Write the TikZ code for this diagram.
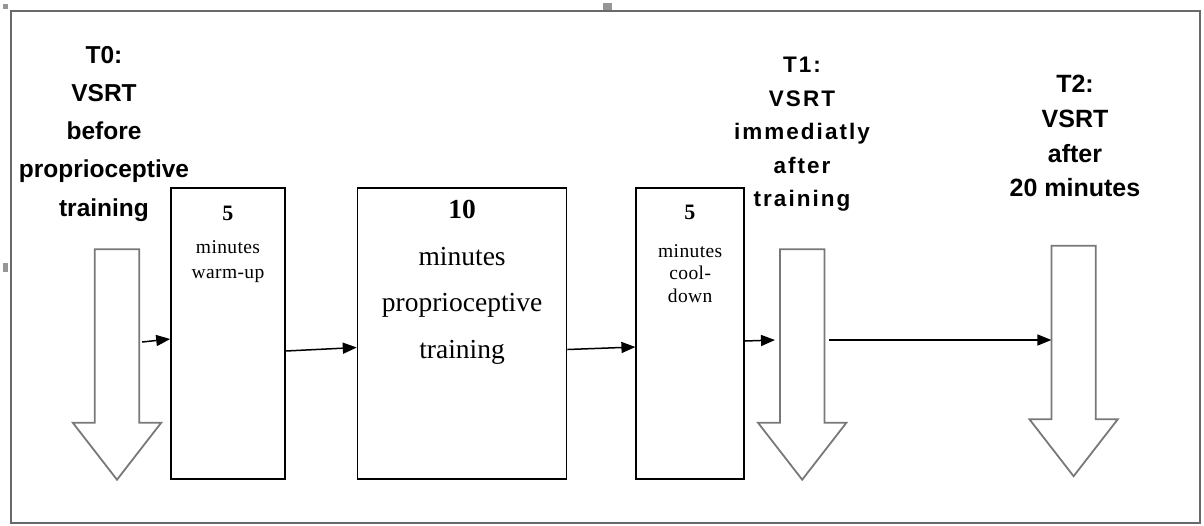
\documentclass[tikz,border=0pt]{standalone}
\usepackage{fontspec}
\setmainfont{Liberation Serif}
\newfontfamily\labelfont{Liberation Sans}
\newfontfamily\spacedfont[LetterSpace=9]{Liberation Sans}
\newfontfamily\spacedserif[LetterSpace=2]{Liberation Serif}
\usetikzlibrary{arrows.meta,positioning,calc}
\definecolor{framegray}{RGB}{105,105,105}
\definecolor{arrowgray}{RGB}{120,120,120}
\definecolor{handlegray}{RGB}{150,150,150}
\tikzset{
  frame/.style={draw=framegray,line width=2pt},
  stagebox/.style={draw=black,line width=1.6pt,inner sep=0pt,minimum height=291pt},
  stagetext/.style={anchor=north,align=center,inner sep=0pt},
  shaft/.style={inner sep=0pt,minimum width=44pt,minimum height=173pt},
  blockarrow/.style={draw=arrowgray,line width=1.8pt,line join=miter},
  timelabel/.style n args={3}{anchor=north,align=center,inner sep=0pt,
    font=#1\bfseries\fontsize{#2}{#3}\selectfont},
  flowarrow/.style={-{Triangle[length=14pt,width=11pt]},line width=1.5pt},
  handle/.style={fill=handlegray}
}
\newcommand{\bignum}[1]{{\fontsize{22}{25}\selectfont\textbf{#1}}}

\begin{document}
\begin{tikzpicture}[x=1pt,y=-1pt]
  \useasboundingbox (0,0) rectangle (1204,525);
  \draw[frame] (11,11) rectangle (1200,523);
  \fill[handle] (3,4) rectangle (8,9);
  \fill[handle] (603,3) rectangle (612,10);
  \fill[handle] (3,263) rectangle (8,272);
  % stage boxes
  \node[stagebox,minimum width=114pt] (warm) at (228,333.5) {};
  \node[stagebox,minimum width=209pt,right=71pt of warm] (train) {};
  \node[stagebox,minimum width=108pt,right=68pt of train] (cool) {};
  \node[stagetext,font=\spacedserif\fontsize{19.5}{25}\selectfont] (warmtxt)
    at ([yshift=-19pt]warm.north) {\bignum{5}\\[8pt]minutes\\warm-up};
  \node[stagetext,font=\fontsize{27.5}{46.5}\selectfont] (traintxt)
    at ([yshift=-13pt]train.north) {\textbf{10}\\minutes\\proprioceptive\\training};
  \node[stagetext,font=\spacedserif\fontsize{19.5}{22.5}\selectfont] (cooltxt)
    at ([yshift=-18pt]cool.north) {\bignum{5}\\[15pt]minutes\\cool-\\down};
  % test moments
  \node[shaft,left=31pt of warm,yshift=-2.5pt] (t0) {};
  \node[shaft,right=35pt of cool,yshift=-2.5pt] (t1) {};
  \node[shaft,right=227pt of t1,yshift=3.5pt] (t2) {};
  \foreach \n in {t0,t1,t2}
    \draw[blockarrow] (\n.north west) -- (\n.south west) -- ++(-22,0)
      -- ([yshift=-57pt]\n.south) -- ([xshift=22pt]\n.south east)
      -- (\n.south east) -- (\n.north east) -- cycle;
  \node[timelabel={\labelfont}{24.5}{38.2}] (t0lbl) at (104,46)
    {T0:\\VSRT\\before\\proprioceptive\\training};
  \node[timelabel={\spacedfont}{22.5}{33.5}] (t1lbl) at (802,57)
    {T1:\\VSRT\\immediatly\\after\\training};
  \node[timelabel={\labelfont}{25}{34.7}] (t2lbl) at (1075,75)
    {T2:\\VSRT\\after\\20 minutes};
  % flow
  \draw[flowarrow] ([xshift=3pt,yshift=-6pt]t0.east) -- ([yshift=-5.5pt]warm.west);
  \draw[flowarrow] ([yshift=-17.5pt]warm.east) -- ([yshift=-14pt]train.west);
  \draw[flowarrow] ([yshift=-16pt]train.east) -- ([yshift=-13.5pt]cool.west);
  \draw[flowarrow] ([yshift=-7.5pt]cool.east) -- ([xshift=-5pt,yshift=-4pt]t1.west);
  \draw[flowarrow] ([xshift=5pt,yshift=-4pt]t1.east) -- ([yshift=-7.5pt]t2.west);
\end{tikzpicture}
\end{document}
